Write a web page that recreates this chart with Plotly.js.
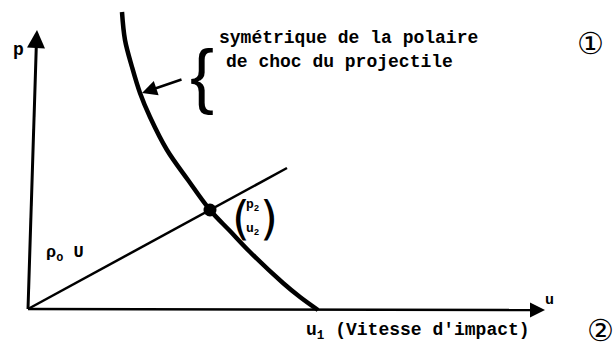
<!DOCTYPE html>
<html><head><meta charset="utf-8">
<script src="https://cdn.plot.ly/plotly-3.0.1.min.js"></script>
<style>html,body{margin:0;padding:0;background:#fff}</style>
</head><body><div id="chart" style="width:614px;height:354px"></div>
<script>
// Diagram coordinates (pixel-like units on a 614 x 354 frame, y down)
const curveX = [122,125,132,140,150,167,188,210,230,250,283,300,318];
const curveY = [12,40,67,93,117,150,180,210,231,252,283,297,310];
const rayX = [28,287];
const rayY = [309,168];
const xAxisX = [28,538];
const xAxisY = [309,310];
const yAxisX = [28,36.5];
const yAxisY = [309,40];
const pointX = [210];
const pointY = [210];

const F = "Liberation Mono, DejaVu Sans Mono, monospace";
const S = "DejaVu Sans, sans-serif";
const black = "#000";

const traces = [
  {x: curveX, y: curveY, mode: "lines", line: {color: black, width: 4.5, shape: "spline"}, hoverinfo: "skip"},
  {x: rayX, y: rayY, mode: "lines", line: {color: black, width: 2.5}, hoverinfo: "skip"},
  {x: xAxisX, y: xAxisY, mode: "lines", line: {color: black, width: 2.5}, hoverinfo: "skip"},
  {x: yAxisX, y: yAxisY, mode: "lines", line: {color: black, width: 3}, hoverinfo: "skip"},
  {x: pointX, y: pointY, mode: "markers", marker: {color: black, size: 13}, hoverinfo: "skip"}
];

function txt(x, y, text, size, family) {
  return {x: x, y: y, xref: "x", yref: "y", text: text, showarrow: false,
    font: {family: family || F, size: size, color: black}, xanchor: "left", yanchor: "middle"};
}
function arrow(x, y, ax, ay, w) {
  return {x: x, y: y, ax: ax, ay: ay, axref: "x", ayref: "y", xref: "x", yref: "y", text: "", showarrow: true,
    arrowhead: 2, arrowsize: 1.2, arrowwidth: w, arrowcolor: black};
}

const annotations = [
  arrow(545, 310, 530, 310, 2.5),
  arrow(37, 30, 36, 48, 3),
  arrow(142, 93, 183, 79, 2.5),
  txt(188, 75, "{", 72, "Liberation Sans, sans-serif"),
  txt(217, 38, "<b>symétrique de la polaire</b>", 18),
  txt(224, 62, "<b>de choc du projectile</b>", 18),
  txt(575, 43, "①", 30, S),
  txt(11, 50, "<b>p</b>", 18),
  txt(44, 254, "<b>ρ<sub>o</sub> U</b>", 17),
  txt(543, 300, "<b>u</b>", 15),
  txt(304, 331, "<b>u<sub>1</sub> (Vitesse d'impact)</b>", 18),
  txt(585, 330, "②", 30, S),
  txt(230, 218, "(", 46, S),
  txt(258, 218, ")", 46, S),
  txt(244, 205, "<b>p<sub>2</sub></b>", 13),
  txt(244, 229, "<b>u<sub>2</sub></b>", 13)
];

const layout = {
  width: 614, height: 354,
  margin: {l: 0, r: 0, t: 0, b: 0},
  paper_bgcolor: "#fff", plot_bgcolor: "#fff",
  showlegend: false,
  xaxis: {range: [0, 614], visible: false, fixedrange: true},
  yaxis: {range: [354, 0], visible: false, fixedrange: true},
  annotations: annotations
};

Plotly.newPlot("chart", traces, layout, {displayModeBar: false, staticPlot: true});
</script>
</body></html>
